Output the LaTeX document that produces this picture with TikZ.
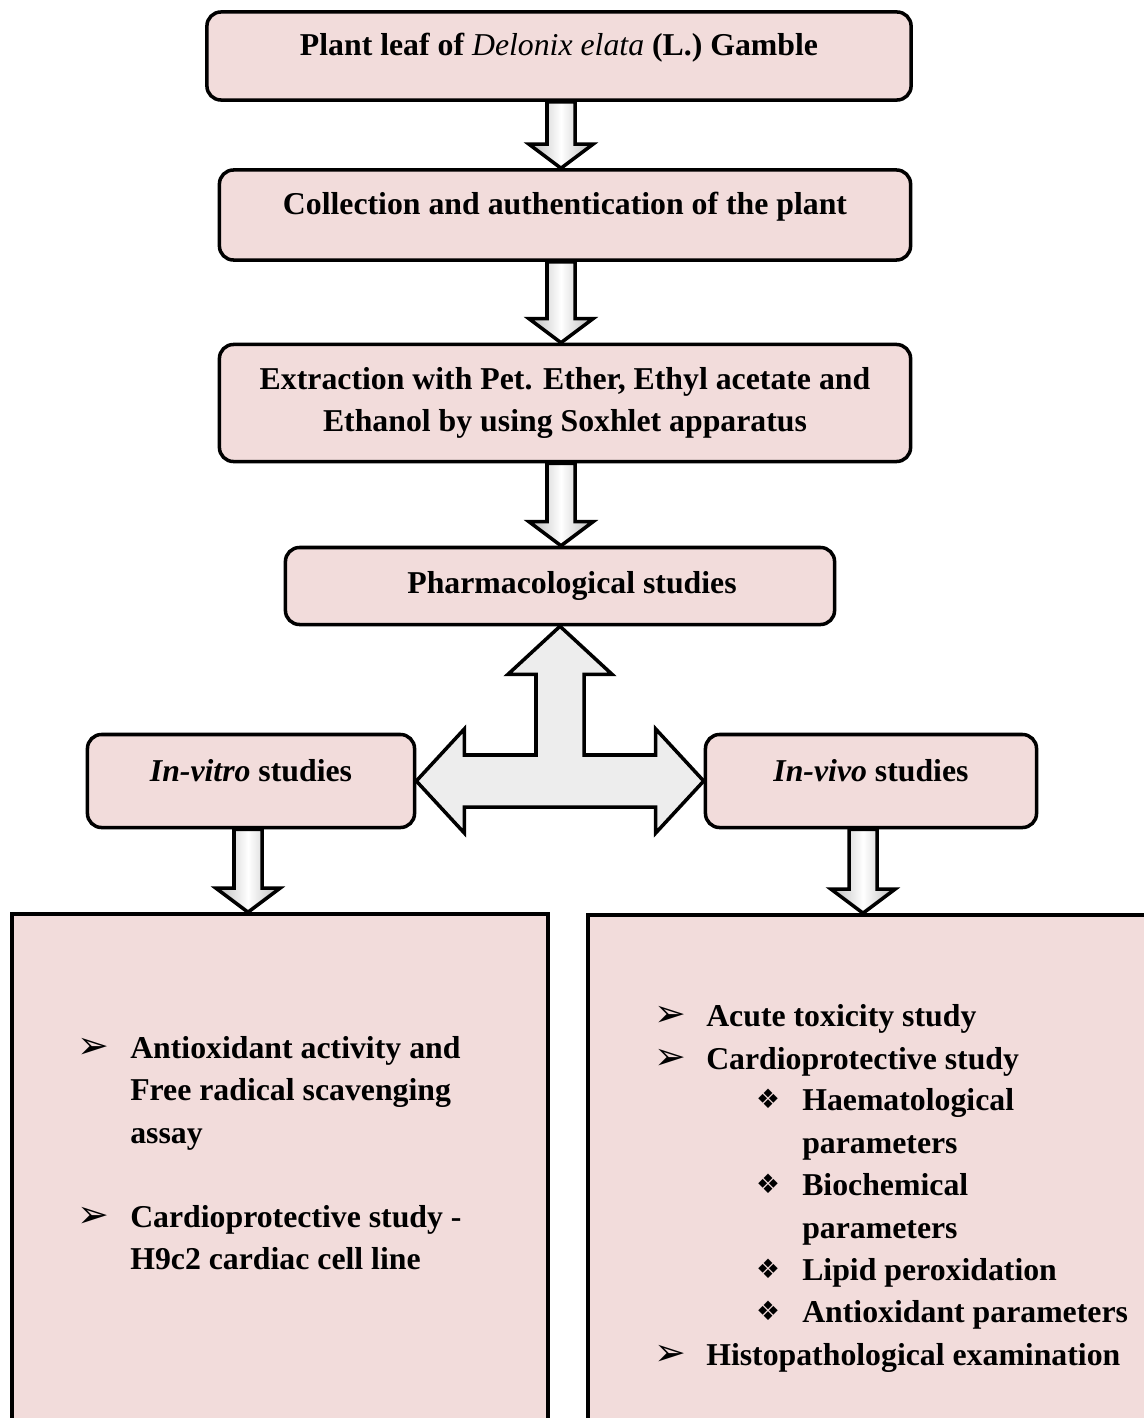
\documentclass[tikz,border=0pt]{standalone}
\usepackage{fontspec}
\setmainfont{Liberation Serif}
\newfontfamily\symfont{DejaVu Sans}
\usetikzlibrary{calc, positioning}
\pgfdeclarelayer{background}
\pgfsetlayers{background,main}
\definecolor{boxpink}{HTML}{F2DCDB}
\tikzset{
	stepbox/.style={draw, line width=2.5pt, rounded corners=10pt, fill=boxpink, align=center},
	raised/.style={text height=0.6cm, text depth=0.6cm},
	listbox/.style={draw, line width=2.5pt, fill=boxpink},
	downarrow/.style={draw, line width=2.5pt, line join=miter, left color=gray!55, right color=gray!55, middle color=white},
	tarrow/.style={draw, line width=2.5pt, line join=miter, fill=white!93!black},
	item/.style={anchor=base west, inner sep=0pt},
	bul/.style={anchor=base, inner sep=0pt, font=\symfont\fontsize{19}{20}\selectfont},
	bigbul/.style={bul, font=\symfont\fontsize{27}{20}\selectfont}
}
\newcommand{\shaftw}{0.35cm}
\newcommand{\headw}{0.8cm}
\newcommand{\headl}{0.6cm}
\newcommand{\blockDown}[3][0]{ % args = x shift, upper node, lower node
	\path[downarrow] let \p1=($(#2.south)+(#1,0)$), \p2=(#3.north) in
		(\x1-\shaftw,\y1) -- (\x1-\shaftw,\y2+\headl) -- (\x1-\headw,\y2+\headl) -- (\x1,\y2)
		-- (\x1+\headw,\y2+\headl) -- (\x1+\shaftw,\y2+\headl) -- (\x1+\shaftw,\y1) -- cycle;
}

\begin{document}
\begin{tikzpicture}[x=0.025cm, y=-0.025cm, font=\fontsize{22.6}{30.2}\selectfont\bfseries]
	\useasboundingbox (0,0) rectangle (1143,1418);
		% steps of the work
		\node[stepbox, raised, minimum width=17.6cm, minimum height=2.2cm] (plant) at (559,56) {Plant leaf of {\mdseries\itshape Delonix elata} (L.) Gamble};
		\node[stepbox, raised, minimum width=17.275cm, minimum height=2.25cm] (collect) at (565,215) {Collection and authentication of the plant};
		\node[stepbox, minimum width=17.275cm, minimum height=2.925cm] (extract) at (565,403) {Extraction with Pet. Ether, Ethyl acetate and\\ Ethanol by using Soxhlet apparatus};
		\node[stepbox, minimum width=13.725cm, minimum height=1.925cm] (pharm) at (560,586) {\hspace*{0.6cm}Pharmacological studies};
		\node[stepbox, raised, minimum width=8.175cm, minimum height=2.325cm] (vitro) at (251,781) {\textit{In-vitro} studies};
		\node[stepbox, raised, minimum width=8.275cm, minimum height=2.325cm] (vivo) at (871,781) {\textit{In-vivo} studies};
		% result boxes, cut by the page edge
		\node[listbox, minimum width=13.4cm, minimum height=13.15cm] (vitrolist) at (280,1177) {};
		\node[listbox, minimum width=14.3cm, minimum height=13.15cm] (vivolist) at (874,1178) {};

		% arrows behind the boxes
		\begin{pgfonlayer}{background}
		\blockDown[2]{plant}{collect}
		\blockDown[-4]{collect}{extract}
		\blockDown[-4]{extract}{pharm}
		\blockDown[-3]{vitro}{vitrolist}
		\blockDown[-8]{vivo}{vivolist}
		\path[tarrow] let \p1=(pharm.south), \p2=(vitro.east), \p3=(vivo.west) in
			(\x1,\y1) -- (\x1+1.3cm,\y1-1.2cm) -- (\x1+0.6cm,\y1-1.2cm) -- (\x1+0.6cm,\y2+0.65cm)
			-- (\x3-1.2cm,\y2+0.65cm) -- (\x3-1.2cm,\y2+1.3cm) -- (\x3,\y2) -- (\x3-1.2cm,\y2-1.3cm)
			-- (\x3-1.2cm,\y2-0.65cm) -- (\x2+1.2cm,\y2-0.65cm) -- (\x2+1.2cm,\y2-1.3cm) -- (\x2,\y2)
			-- (\x2+1.2cm,\y2+1.3cm) -- (\x2+1.2cm,\y2+0.65cm) -- (\x1-0.6cm,\y2+0.65cm)
			-- (\x1-0.6cm,\y1-1.2cm) -- (\x1-1.3cm,\y1-1.2cm) -- cycle;
		\end{pgfonlayer}

		% in-vitro list
		\foreach \y/\txt [count=\i] in {1058/Antioxidant activity and, 1100/Free radical scavenging, 1143/assay, 1227/Cardioprotective study -, 1269/H9c2 cardiac cell line} {
			\node[item] (vt\i) at (130,\y) {\txt};
		};
		\node[bigbul] (vtb1) at (93,1058) {➢};
		\node[bigbul] (vtb2) at (93,1227) {➢};

		% in-vivo list
		\foreach \y/\txt [count=\i] in {1026/Acute toxicity study, 1069/Cardioprotective study, 1365/Histopathological examination} {
			\node[item] (vv\i) at (706,\y) {\txt};
		};
		\foreach \y/\txt [count=\i] in {1110/Haematological, 1153/parameters, 1195/Biochemical, 1238/parameters, 1280/Lipid peroxidation, 1322/Antioxidant parameters} {
			\node[item] (vs\i) at (802,\y) {\txt};
		};
		\foreach \y [count=\i] in {1026, 1069, 1365} {
			\node[bigbul] (vvb\i) at (670,\y) {➢};
		};
		\foreach \y [count=\i] in {1108, 1193, 1278, 1320} {
			\node[bul] (vsb\i) at (768,\y) {❖};
		};
\end{tikzpicture}
\end{document}
